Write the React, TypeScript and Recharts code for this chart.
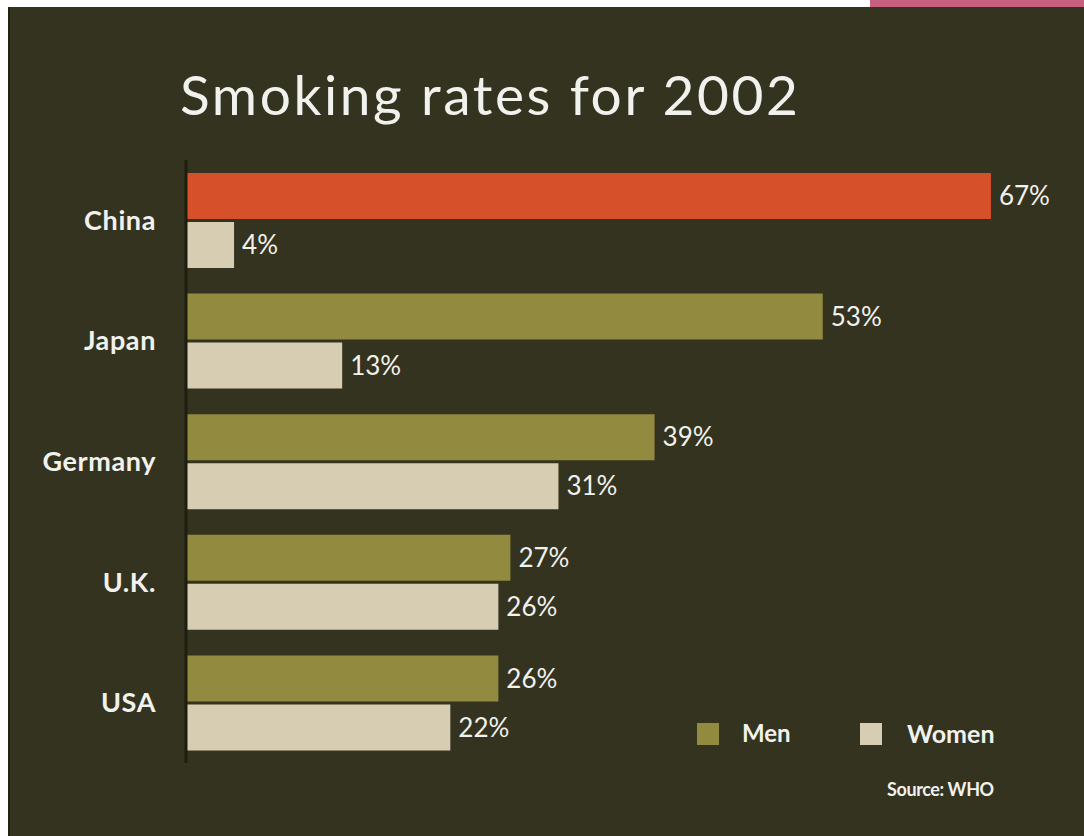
import React from 'react';
import { BarChart, Bar, XAxis, YAxis, Cell, LabelList } from 'recharts';

const countries = ['China', 'Japan', 'Germany', 'U.K.', 'USA'];
const men = [67, 53, 39, 27, 26];
const women = [4, 13, 31, 26, 22];
const seriesNames = ['Men', 'Women'];
const title = 'Smoking rates for 2002';
const source = 'Source: WHO';

const data = countries.map((c, i) => ({ country: c, men: men[i], women: women[i] }));

const BG = '#34331f';
const MEN = '#928a3f';
const WOMEN = '#d7cdb3';
const HIGHLIGHT = '#d6502a';
const TEXT = '#f1f2ee';
const FONT = 'Lato, "Open Sans", sans-serif';

export default function App() {
  return (
    <div style={{ position: 'absolute', left: 0, top: 0, width: 1084, height: 836, background: '#ffffff', overflow: 'hidden', fontFamily: FONT }}>
      <div style={{ position: 'absolute', left: 870, top: 0, width: 214, height: 8, background: '#c75f7f' }} />
      <div style={{ position: 'absolute', left: 8, top: 7, width: 1076, height: 829, background: BG }} />
      <div style={{ position: 'absolute', left: 8, top: 7, width: 2, height: 829, background: '#22220f' }} />
      <div style={{ position: 'absolute', left: 180, top: 62, fontSize: 55, letterSpacing: 2.6, color: TEXT, lineHeight: '64px', whiteSpace: 'nowrap' }}>{title}</div>
      <div style={{ position: 'absolute', left: 0, top: 0 }}>
        <BarChart
          width={1084}
          height={836}
          data={data}
          layout="vertical"
          margin={{ top: 160, right: 57, bottom: 73, left: 0 }}
          barSize={46}
          barGap={3}
        >
          <XAxis type="number" domain={[0, 70]} hide />
          <YAxis
            type="category"
            dataKey="country"
            width={186}
            axisLine={{ stroke: '#1e1e10', strokeWidth: 3 }}
            tickLine={false}
            tickSize={0}
            tickMargin={30}
            tick={{ fill: TEXT, fontSize: 27, fontWeight: 700, fontFamily: FONT, letterSpacing: 0.6 }}
          />
          <Bar dataKey="men" fill={MEN} isAnimationActive={false}>
            {data.map((d, i) => (
              <Cell key={d.country} fill={i === 0 ? HIGHLIGHT : MEN} />
            ))}
            <LabelList dataKey="men" position="right" offset={8} formatter={(v: any) => `${v}%`} style={{ fill: TEXT, fontSize: 26, fontFamily: FONT }} />
          </Bar>
          <Bar dataKey="women" fill={WOMEN} isAnimationActive={false}>
            <LabelList dataKey="women" position="right" offset={8} formatter={(v: any) => `${v}%`} style={{ fill: TEXT, fontSize: 26, fontFamily: FONT }} />
          </Bar>
        </BarChart>
      </div>
      <div style={{ position: 'absolute', left: 697, top: 723, width: 22, height: 22, background: MEN }} />
      <div style={{ position: 'absolute', left: 742, top: 718, fontSize: 24, fontWeight: 700, color: TEXT, lineHeight: '30px' }}>{seriesNames[0]}</div>
      <div style={{ position: 'absolute', left: 860, top: 723, width: 22, height: 22, background: WOMEN }} />
      <div style={{ position: 'absolute', left: 907, top: 718, fontSize: 25, fontWeight: 700, color: TEXT, lineHeight: '30px' }}>{seriesNames[1]}</div>
      <div style={{ position: 'absolute', left: 887, top: 778, fontSize: 18, fontWeight: 700, color: TEXT, lineHeight: '22px', letterSpacing: -0.4, whiteSpace: 'nowrap' }}>{source}</div>
    </div>
  );
}
